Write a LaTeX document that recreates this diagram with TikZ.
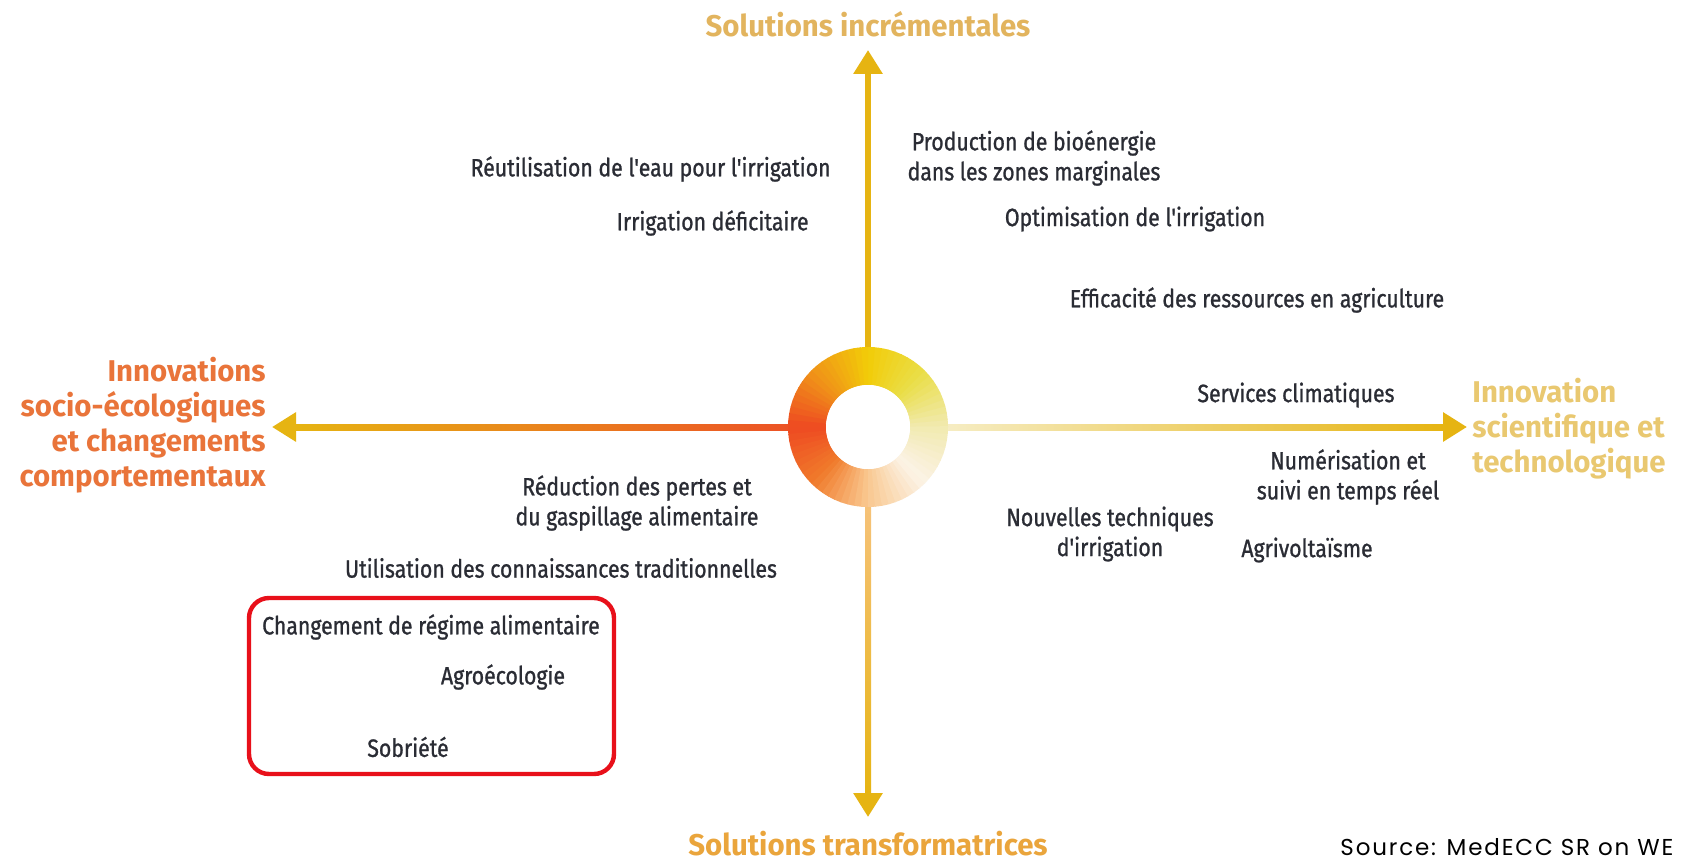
\documentclass[tikz,border=0pt]{standalone}
\usepackage{fontspec}
\setmainfont{Fira Sans}
\newfontfamily\dinfont[FakeStretch=0.85, FakeBold=1]{Fira Sans}
\newfontfamily\titrefont[FakeStretch=0.98]{Fira Sans}
\newfontfamily\sourcefont[LetterSpace=8]{Poppins}
\usetikzlibrary{arrows.meta, positioning, calc}
\definecolor{encre}{HTML}{2A2C34}
\definecolor{or}{HTML}{E6B412}
\definecolor{orange2}{HTML}{EE8A1E}
\definecolor{rougeorange}{HTML}{EC5226}
\definecolor{pale}{HTML}{F6EDC4}
\definecolor{peche}{HTML}{F6C27A}
\definecolor{incr}{HTML}{E2B45E}
\definecolor{transf}{HTML}{EAA53C}
\definecolor{socio}{HTML}{E9743A}
\definecolor{scitech}{HTML}{E9C870}
\definecolor{rouge}{HTML}{E8101A}
\definecolor{ringE}{HTML}{F1EAB0}
\definecolor{ringNE}{HTML}{EADE48}
\definecolor{ringN}{HTML}{F2CC08}
\definecolor{ringNW}{HTML}{F09418}
\definecolor{ringW}{HTML}{EE4A22}
\definecolor{ringSW}{HTML}{F07A2A}
\definecolor{ringS}{HTML}{F9C890}
\definecolor{ringSE}{HTML}{FCF3E6}

\begin{document}
\begin{tikzpicture}[
  x=0.5pt, y=0.5pt,
  texte/.style={font=\dinfont\fontsize{12.5}{15}\selectfont, text=encre, inner sep=0pt, align=center},
  titre/.style={font=\titrefont\bfseries\fontsize{15}{17.5}\selectfont, inner sep=0pt, align=center},
  axe/.style={line width=3pt, draw=or, -{Triangle[length=12pt, width=14pt]}},
  cadre/.style={draw=rouge, line width=2.2pt, rounded corners=10pt},
]

% --- Fond ---
\fill[white] (0,0) rectangle (1681,864);
\useasboundingbox (0,0) rectangle (1681,864);

% --- Moyeu central ---
\node[circle, minimum size=80pt, inner sep=0pt, outer sep=0pt] (hub) at (868,437) {};

% --- Titres des axes ---
\node[titre, text=incr] (incr) at (868,840) {Solutions incrémentales};
\node[titre, text=transf] (transf) at (868,20) {Solutions transformatrices};
\node[titre, text=socio, align=right, anchor=east] (socio) at (266,439)
  {Innovations\\socio-écologiques\\et changements\\comportementaux};
\node[titre, text=scitech, align=left, anchor=west] (scitech) at (1472,435)
  {Innovation\\scientifique et\\technologique};

% --- Extrémités des flèches ---
\coordinate (tipN) at (868,814);
\coordinate (tipS) at (868,47);
\coordinate (tipW) at (272,437);
\coordinate (tipE) at (1467,437);

% --- Axes ---
\draw[axe] (hub.north) -- (tipN);
\draw[axe] (hub.south) -- (tipS);
\draw[axe] (hub.west) -- (tipW);
\draw[axe] (hub.east) -- (tipE);
\shade[left color=or, middle color=orange2, right color=rougeorange]
  ($(tipW)+(22,-3)$) rectangle ($(hub.west)+(4,3)$);
\shade[left color=pale, right color=or]
  ($(hub.east)+(-4,-3)$) rectangle ($(tipE)+(-22,3)$);
\shade[top color=peche, bottom color=or]
  ($(hub.south)+(-3,4)$) rectangle ($(tipS)+(3,22)$);

% --- Anneau en dégradé ---
\foreach \a/\ca/\cb in {0/ringE/ringNE, 45/ringNE/ringN, 90/ringN/ringNW, 135/ringNW/ringW,
                        180/ringW/ringSW, 225/ringSW/ringS, 270/ringS/ringSE, 315/ringSE/ringE} {
  \foreach \j in {0,...,8} {
    \pgfmathsetmacro{\s}{\a+5*\j}
    \pgfmathsetmacro{\pct}{100-(5*\j+2.5)*100/45}
    \fill[\ca!\pct!\cb] ($(hub)+(\s:80)$) arc[start angle=\s, end angle=\s+5.6, radius=80]
      -- ($(hub)+(\s+5.6:42)$) arc[start angle=\s+5.6, end angle=\s, radius=42] -- cycle;
  }
}
\fill[white] (hub) circle[radius=42];

% --- Solutions incrémentales ---
\node[texte, anchor=east] (reuse) at (831,695) {Réutilisation de l'eau pour l'irrigation};
\node[texte, anchor=east] (deficit) at (809,641) {Irrigation déficitaire};
\node[texte] (bioen) at (1034,706) {Production de bioénergie\\dans les zones marginales};
\node[texte] (optim) at (1135,645) {Optimisation de l'irrigation};
\node[texte] (effic) at (1257,564) {Efficacité des ressources en agriculture};

% --- Innovation scientifique ---
\node[texte] (servclim) at (1296,469) {Services climatiques};
\node[texte] (numer) at (1348,387) {Numérisation et\\suivi en temps réel};
\node[texte] (nouvtech) at (1110,330) {Nouvelles techniques\\d'irrigation};
\node[texte] (agrivolt) at (1307,314) {Agrivoltaïsme};

% --- Innovations socio-écologiques ---
\node[texte] (pertes) at (637,361) {Réduction des pertes et\\du gaspillage alimentaire};
\node[texte] (tradit) at (561,296) {Utilisation des connaissances traditionnelles};
\node[texte] (regime) at (431,237) {Changement de régime alimentaire};
\node[texte] (agroeco) at (503,187) {Agroécologie};
\node[texte] (sobriete) at (408,117) {Sobriété};
\draw[cadre] (249,90) rectangle (614,266);

% --- Source ---
\node[font=\sourcefont\fontsize{11.5}{13}\selectfont, anchor=west, inner sep=0pt] (source) at (1340,17)
  {Source: MedECC SR on WE};

\end{tikzpicture}
\end{document}
